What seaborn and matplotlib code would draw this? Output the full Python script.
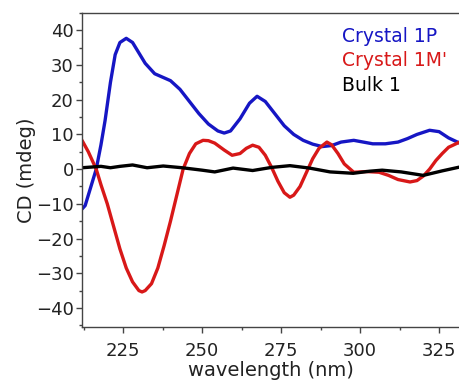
import numpy as np
import pandas as pd
import seaborn as sns
from matplotlib import pyplot as plt
from matplotlib.ticker import MultipleLocator

# values (wavelength in nm, CD in mdeg)
wl_1p = [212, 213, 214, 215, 216.5, 218, 219.3, 221, 222.5, 224, 226, 228, 230, 232, 235, 238,
         240, 243, 246, 249, 252, 255, 257, 259, 262, 265, 267.4, 270, 273, 276, 279, 282,
         285, 288, 291, 294, 298, 301, 304, 308, 312, 315, 318, 322, 325, 328, 331.5]
cd_1p = [-11.5, -10.5, -7.5, -4.5, 0, 7, 14, 25, 33, 36.5, 37.7, 36.5, 33.5, 30.5, 27.5, 26.3,
         25.5, 23, 19.5, 16, 13, 11, 10.4, 11, 14.5, 19, 21, 19.5, 16, 12.5, 10, 8.3,
         7.2, 6.5, 6.8, 7.8, 8.3, 7.8, 7.3, 7.3, 7.8, 8.8, 10, 11.2, 10.8, 9, 7.5]

wl_1m = [212, 214, 216.5, 218, 220, 222, 224, 226, 228, 230, 231, 232, 234, 236, 238, 240,
         242, 244, 246, 248, 250.3, 252, 254, 257, 259.5, 262, 264, 266, 268, 270, 272,
         274, 276, 277.8, 279, 281, 283, 285, 287, 289.5, 291, 293, 295, 298, 302, 306,
         309, 312, 315.8, 318, 320, 322, 324, 326, 328, 331.5]
cd_1m = [8.3, 5, 0, -4.5, -10, -16.5, -23, -28.5, -32.5, -35, -35.4, -35, -33, -28.5, -22, -15,
         -7.5, 0, 4.5, 7.3, 8.3, 8.2, 7.5, 5.5, 4.0, 4.5, 6, 6.9, 6.3, 4, 0.5,
         -3.5, -6.8, -8.1, -7.5, -5, -1, 3, 6, 7.8, 7, 4.5, 1.5, -0.9, -0.7, -0.9,
         -1.8, -3, -3.7, -3.3, -2, 0, 2.5, 4.5, 6.3, 7.8]

wl_b1 = [212, 215, 218, 221, 224, 228, 232.6, 237.7, 243.7, 250, 254, 259.8, 266, 272, 277.8,
         284, 290.5, 297.8, 303, 307, 313, 320, 326, 331.5]
cd_b1 = [0.4, 0.6, 0.8, 0.4, 0.8, 1.2, 0.4, 0.9, 0.4, -0.3, -0.8, 0.3, -0.4, 0.5, 1.0,
         0.3, -0.8, -1.2, -0.6, -0.3, -0.8, -1.8, -0.5, 0.6]

labels = ['Crystal 1P', "Crystal 1M'", 'Bulk 1']
colors = ['#1616c4', '#d81818', '#000000']

df = pd.concat([
    pd.DataFrame({'wl': wl_1p, 'cd': cd_1p, 'sample': labels[0]}),
    pd.DataFrame({'wl': wl_1m, 'cd': cd_1m, 'sample': labels[1]}),
    pd.DataFrame({'wl': wl_b1, 'cd': cd_b1, 'sample': labels[2]}),
])

sns.set_style('ticks')
plt.rcParams['font.family'] = ['DejaVu Sans']
plt.rcParams['font.size'] = 13

fig = plt.figure(figsize=(4.59, 3.81), dpi=100)
ax = fig.add_axes([82 / 459, 1 - 327 / 381, 1 - 82 / 459, (327 - 13) / 381])

sns.lineplot(data=df, x='wl', y='cd', hue='sample', palette=dict(zip(labels, colors)),
             estimator=None, sort=True, linewidth=2.4, ax=ax)

ax.set_xlim(212, 331.3)
ax.set_ylim(-45.5, 45)
ax.xaxis.set_major_locator(MultipleLocator(25))
ax.xaxis.set_minor_locator(MultipleLocator(12.5))
ax.yaxis.set_major_locator(MultipleLocator(10))
ax.yaxis.set_minor_locator(MultipleLocator(5))
ax.tick_params(which='major', length=4.5, width=1, labelsize=13, color='#444444',
               labelcolor='#222222')
ax.tick_params(which='minor', length=2.5, width=1, color='#444444')
ax.tick_params(axis='y', pad=1.5)
ax.tick_params(axis='x', pad=6)
ax.spines['right'].set_visible(False)
for s in ['left', 'bottom', 'top']:
    ax.spines[s].set_visible(True)
    ax.spines[s].set_color('#444444')
    ax.spines[s].set_linewidth(1)

ax.set_xlabel('wavelength (nm)', fontsize=14, labelpad=1, color='#222222')
ax.set_ylabel('CD (mdeg)', fontsize=14, labelpad=0, color='#222222')

leg = ax.legend(loc='upper left', bbox_to_anchor=(0.69, 0.955), frameon=False,
                handlelength=0, handletextpad=0, borderpad=0, borderaxespad=0,
                labelspacing=0.28, labelcolor='linecolor', fontsize=13.5)
for h in leg.legend_handles:
    h.set_visible(False)

fig.savefig('out.png', dpi=100)
